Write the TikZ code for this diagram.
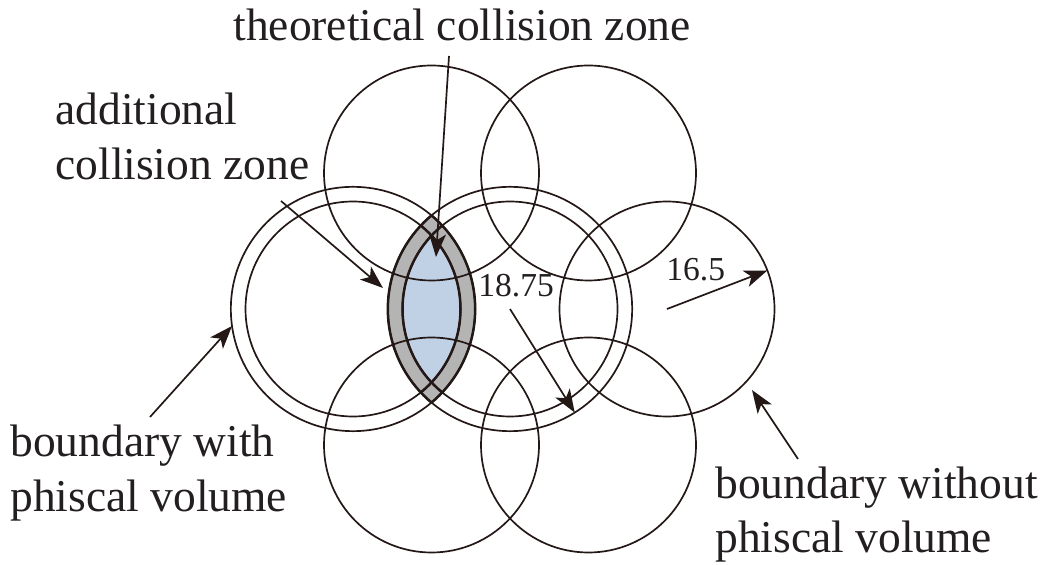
\documentclass[tikz,border=0pt]{standalone}
\usepackage{fontspec}
\setmainfont{Liberation Serif}
\usepackage{tikz}
\usetikzlibrary{arrows.meta,backgrounds}
\definecolor{inkline}{HTML}{231815}
\definecolor{inktext}{HTML}{231F20}
\definecolor{lensgray}{HTML}{B4B4B5}
\definecolor{lensblue}{HTML}{C0D0E5}

\begin{document}
\begin{tikzpicture}[x=0.5pt,y=-0.5pt,>={Stealth[length=11.5pt,width=8.5pt,inset=3pt]},
  ring/.style={circle,draw=inkline,line width=0.85pt,minimum size=107.5pt,inner sep=0pt,outer sep=0pt},
  bigring/.style={ring,minimum size=122.16pt},
  lensedge/.style={draw=inkline,line width=1.25pt},
  lab/.style={font=\fontsize{22.75}{27.5}\selectfont,text=inktext,inner sep=0pt,align=left,anchor=base west},
  num/.style={font=\fontsize{16.75}{20}\selectfont,text=inktext,inner sep=0pt,anchor=base west},
  arr/.style={->,draw=inkline,line width=0.85pt}]
  \useasboundingbox (0,0) rectangle (1043,565);
  \node[ring] (tl) at (431.5,173) {};
  \node[ring] (tr) at (588.5,173) {};
  \node[ring] (ml) at (353,309) {};
  \node[bigring] (mlo) at (353,309) {};
  \node[ring] (mc) at (510,309) {};
  \node[bigring] (mco) at (510,309) {};
  \node[ring] (mr) at (667,309) {};
  \node[ring] (bl) at (431.5,445) {};
  \node[ring] (br) at (588.5,445) {};
  \begin{scope}[on background layer]
    \begin{scope}
      \clip (mlo.center) circle[radius=61.08pt];
      \fill[lensgray] (mco.center) circle[radius=61.08pt];
    \end{scope}
    \begin{scope}
      \clip (ml.center) circle[radius=53.75pt];
      \fill[lensblue] (mc.center) circle[radius=53.75pt];
    \end{scope}
  \end{scope}
  \begin{scope}
    \clip (mlo.center) circle[radius=61.08pt];
    \draw[lensedge] (mco.center) circle[radius=61.08pt] (mc.center) circle[radius=53.75pt];
  \end{scope}
  \begin{scope}
    \clip (mco.center) circle[radius=61.08pt];
    \draw[lensedge] (mlo.center) circle[radius=61.08pt] (ml.center) circle[radius=53.75pt];
  \end{scope}
  \node[lab] (theo) at (233,41) {theoretical collision zone};
  \node[lab] (addl) at (55,180) {additional\\collision zone};
  \node[lab] (bwith) at (10,512) {boundary with\\phiscal volume};
  \node[lab] (bwo) at (715,553) {boundary without\\phiscal volume};
  \node[num] (rbig) at (478,297) {18.75};
  \node[num] (rsmall) at (666,281) {16.5};
  \coordinate (theotail) at (449,56);
  \coordinate (theotip) at (436,257);
  \draw[arr] (theotail) -- (theotip);
  \coordinate (addltail) at (281,201);
  \coordinate (addltip) at (383,288);
  \draw[arr] (addltail) -- (addltip);
  \coordinate (bwithtail) at (150,417);
  \draw[arr] (bwithtail) -- (mlo.188);
  \draw[arr] (mco.center) -- (mco.-58.5);
  \draw[arr] (mr.center) -- (mr.21.5);
  \coordinate (bwotail) at (798,459);
  \coordinate (bwotip) at (752,390);
  \draw[arr] (bwotail) -- (bwotip);
\end{tikzpicture}
\end{document}
